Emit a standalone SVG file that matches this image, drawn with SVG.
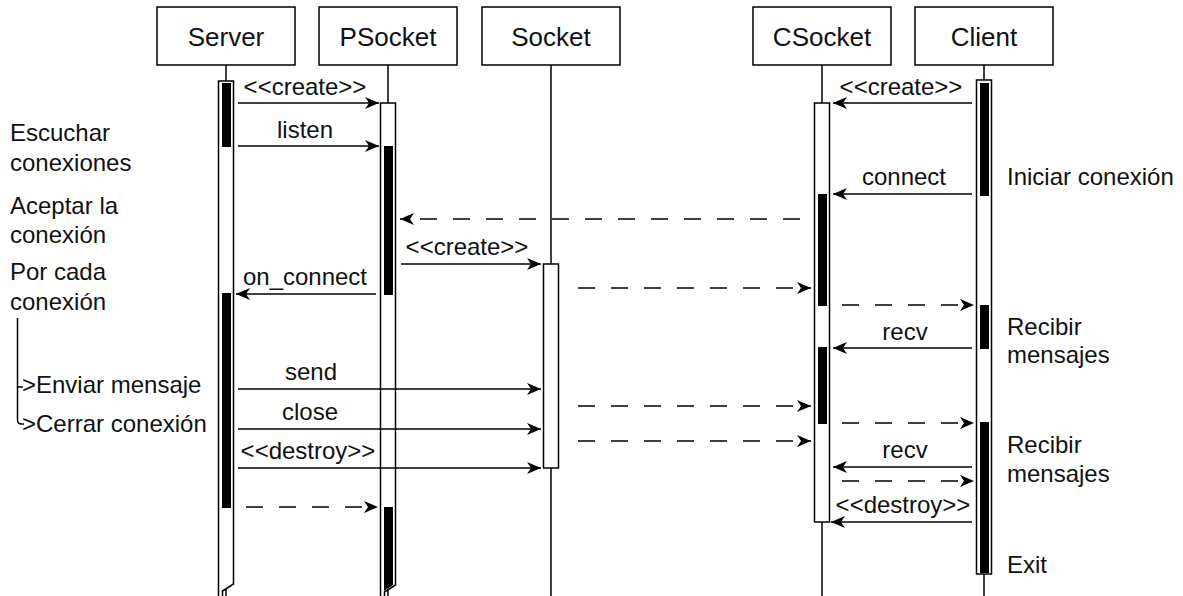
<svg xmlns="http://www.w3.org/2000/svg" width="1183" height="596" viewBox="0 0 1183 596">
<defs>
<marker id="ah" markerUnits="userSpaceOnUse" markerWidth="16" markerHeight="14" refX="15" refY="7" orient="auto">
<path d="M1,1 L15,7 L1,13 L5,7 Z" fill="#000"/>
</marker>
<style>
.box{fill:#fff;stroke:#000;stroke-width:1.5}
.life{stroke:#000;stroke-width:1.5;fill:none}
.bar{fill:#fff;stroke:#000;stroke-width:1.5}
.blk{fill:#000}
.msg{stroke:#000;stroke-width:1.5;fill:none;marker-end:url(#ah)}
.dash{stroke-dasharray:17 16}
text{font-family:"Liberation Sans",Arial,sans-serif;fill:#111}
.h{font-size:26px;text-anchor:middle}
.l{font-size:24px}
.c{text-anchor:middle}
</style>
</defs>
<rect width="1183" height="596" fill="#fff"/>

<g id="Server">
<path class="life" d="M226,65 V596"/>
<rect class="box" x="157" y="7" width="138" height="58"/>
<text class="h" x="226" y="46">Server</text>
<path class="bar" d="M218.5,596 V81 H233.5 V584 L222.5,591 V596"/>
<rect class="blk" x="222" y="83" width="9" height="64"/>
<rect class="blk" x="222" y="293" width="9" height="215"/>
</g>

<g id="PSocket">
<path class="life" d="M388,65 V596"/>
<rect class="box" x="319" y="7" width="138" height="58"/>
<text class="h" x="388" y="46">PSocket</text>
<path class="bar" d="M380.5,596 V103 H395.5 V585 L384.5,592 V596"/>
<rect class="blk" x="384" y="146" width="9" height="149"/>
<path class="blk" d="M384,507 H393 V585 L384,591 Z"/>
</g>

<g id="Socket">
<path class="life" d="M551,65 V596"/>
<rect class="box" x="482" y="7" width="138" height="58"/>
<text class="h" x="551" y="46">Socket</text>
<rect class="bar" x="543.5" y="264" width="15" height="204"/>
</g>

<g id="CSocket">
<path class="life" d="M822,65 V596"/>
<rect class="box" x="753" y="7" width="138" height="58"/>
<text class="h" x="822" y="46">CSocket</text>
<rect class="bar" x="814.5" y="103" width="15" height="419"/>
<rect class="blk" x="818" y="194" width="9" height="112"/>
<rect class="blk" x="818" y="347" width="9" height="77"/>
</g>

<g id="Client">
<path class="life" d="M984,65 V596"/>
<rect class="box" x="915" y="7" width="138" height="58"/>
<text class="h" x="984" y="46">Client</text>
<rect class="bar" x="976.5" y="80" width="15" height="494"/>
<rect class="blk" x="980" y="83" width="9" height="113"/>
<rect class="blk" x="980" y="305" width="9" height="44"/>
<rect class="blk" x="980" y="422" width="9" height="151"/>
</g>

<g id="connectors">
<path class="msg" d="M238,103 H379"/>
<path class="msg" d="M238,146 H379"/>
<path class="msg" d="M972,103 H833"/>
<path class="msg" d="M972,194 H833"/>
<path class="msg dash" d="M800,219 H400"/>
<path class="msg" d="M401,264 H541"/>
<path class="msg" d="M376,294 H236"/>
<path class="msg dash" d="M578,288 H811"/>
<path class="msg dash" d="M842,305 H974"/>
<path class="msg" d="M972,348 H833"/>
<path class="msg" d="M238,389 H541"/>
<path class="msg dash" d="M578,406 H811"/>
<path class="msg dash" d="M842,423 H974"/>
<path class="msg" d="M238,429 H541"/>
<path class="msg dash" d="M578,441 H811"/>
<path class="msg" d="M238,468 H541"/>
<path class="msg" d="M972,467 H833"/>
<path class="msg dash" d="M842,481 H974"/>
<path class="msg dash" d="M246,507 H378"/>
<path class="msg" d="M972,522 H831"/>
<text class="l c" x="305" y="95">&lt;&lt;create&gt;&gt;</text>
<text class="l c" x="305" y="138">listen</text>
<text class="l c" x="901" y="95">&lt;&lt;create&gt;&gt;</text>
<text class="l c" x="904" y="185">connect</text>
<text class="l c" x="467" y="255">&lt;&lt;create&gt;&gt;</text>
<text class="l c" x="305" y="285">on_connect</text>
<text class="l c" x="905" y="340">recv</text>
<text class="l c" x="311" y="380">send</text>
<text class="l c" x="310" y="420">close</text>
<text class="l c" x="308" y="459">&lt;&lt;destroy&gt;&gt;</text>
<text class="l c" x="905" y="458">recv</text>
<text class="l c" x="903" y="513">&lt;&lt;destroy&gt;&gt;</text>
</g>

<g id="notes">
<text class="l" x="10" y="141">Escuchar</text>
<text class="l" x="10" y="171">conexiones</text>
<text class="l" x="10" y="214">Aceptar la</text>
<text class="l" x="10" y="243">conexión</text>
<text class="l" x="10" y="280">Por cada</text>
<text class="l" x="10" y="310">conexión</text>
<path class="life" d="M17.5,318 V420 Q17.5,424 21.5,424 H24 M17.5,387 H23"/>
<text class="l" x="22" y="393">&gt;Enviar mensaje</text>
<text class="l" x="22" y="432">&gt;Cerrar conexión</text>
<text class="l" x="1007" y="185">Iniciar conexión</text>
<text class="l" x="1007" y="335">Recibir</text>
<text class="l" x="1007" y="363">mensajes</text>
<text class="l" x="1007" y="453">Recibir</text>
<text class="l" x="1007" y="482">mensajes</text>
<text class="l" x="1007" y="573">Exit</text>
</g>
</svg>
